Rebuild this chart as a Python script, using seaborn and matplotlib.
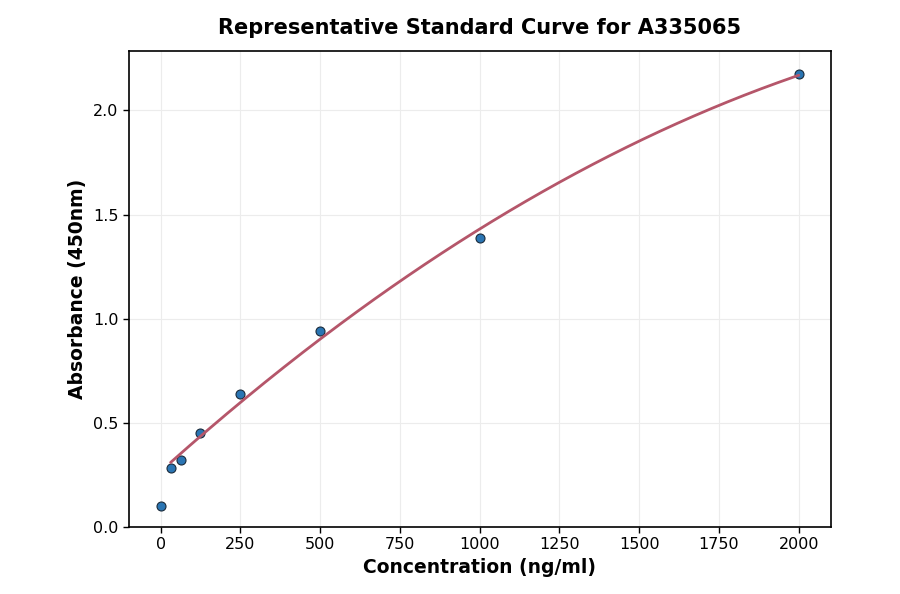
import numpy as np
import pandas as pd
import matplotlib
matplotlib.use("Agg")
import matplotlib.pyplot as plt
import seaborn as sns

# standard points
concentration = [0, 31.25, 62.5, 125, 250, 500, 1000, 2000]
absorbance = [0.10, 0.283, 0.321, 0.45, 0.638, 0.94, 1.386, 2.177]

x_ticks = [0, 250, 500, 750, 1000, 1250, 1500, 1750, 2000]
y_ticks = [0.0, 0.5, 1.0, 1.5, 2.0]

df = pd.DataFrame({"conc": concentration, "od": absorbance})

# quadratic fit on the non-zero standards, drawn over their range
nz = df[df["conc"] > 0]
coef = np.polyfit(nz["conc"], nz["od"], 2)
xs = np.linspace(nz["conc"].min(), nz["conc"].max(), 300)
curve = pd.DataFrame({"conc": xs, "od": np.polyval(coef, xs)})

sns.set_style("white")
plt.rcParams["font.family"] = ["DejaVu Sans"]
plt.rcParams["text.color"] = "black"
plt.rcParams["axes.labelcolor"] = "black"
plt.rcParams["xtick.color"] = "black"
plt.rcParams["ytick.color"] = "black"

fig, ax = plt.subplots(figsize=(9, 5.94), dpi=100)
fig.subplots_adjust(left=0.143, right=0.923, top=0.914, bottom=0.113)

sns.lineplot(data=curve, x="conc", y="od", ax=ax, color="#b5566a",
             linewidth=2, zorder=3)
sns.scatterplot(data=df, x="conc", y="od", ax=ax, color="#2a75b3",
                edgecolor="#1a2a3a", linewidth=0.8, s=42, zorder=2)

ax.set_xlim(-100, 2100)
ax.set_ylim(0, 2.285)
ax.set_xticks(x_ticks)
ax.set_yticks(y_ticks)
ax.grid(True, color="#ececec", linewidth=0.8)
ax.set_axisbelow(True)
for sp in ax.spines.values():
    sp.set_color("black")
    sp.set_linewidth(1.2)
ax.tick_params(axis="both", labelsize=11.5, length=4, width=1, color="black",
               labelcolor="black", direction="out", bottom=True, left=True)

ax.set_title("Representative Standard Curve for A335065", fontsize=15,
             fontweight="bold", pad=12, color="black")
ax.set_xlabel("Concentration (ng/ml)", fontsize=13.5, fontweight="bold",
              color="black")
ax.set_ylabel("Absorbance (450nm)", fontsize=13.5, fontweight="bold",
              color="black")

fig.savefig("out.png", dpi=100, facecolor="white")
